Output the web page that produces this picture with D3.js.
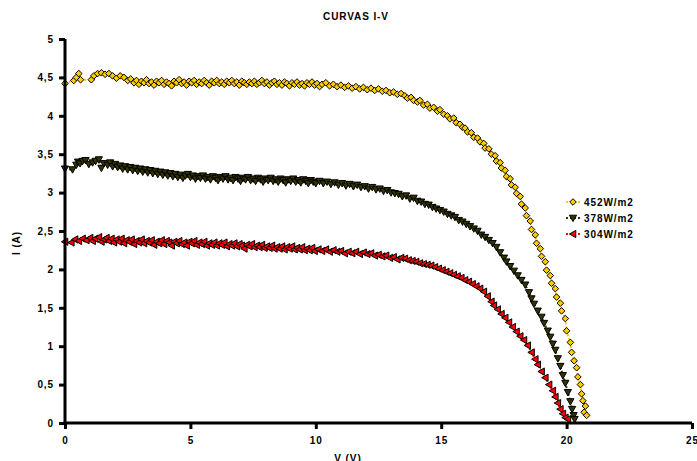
<!DOCTYPE html>
<html>
<head>
<meta charset="utf-8">
<script src="https://cdn.jsdelivr.net/npm/d3@7"></script>
<style>
body { margin: 0; background: #fff; }
text { font-family: Arial, "Liberation Sans", sans-serif; font-weight: bold; font-size: 10px; letter-spacing: 0.9px; }
</style>
</head>
<body>
<svg></svg>
<script>
const series452 = [
[0.00,4.42],[0.35,4.46],[0.45,4.50],[0.55,4.55],[0.62,4.47],[1.05,4.47],[1.15,4.52],[1.30,4.55],[1.45,4.56],[1.60,4.54],
[1.75,4.55],[1.90,4.52],[2.05,4.49],[2.20,4.52],[2.35,4.50],[2.50,4.46],[2.62,4.48],[2.75,4.43],[2.85,4.46],[2.95,4.41],
[3.05,4.45],[3.15,4.43],[3.25,4.47],[3.35,4.42],[3.45,4.44],[3.55,4.40],[3.65,4.45],[3.75,4.43],[3.85,4.46],[3.95,4.41],
[4.05,4.44],[4.15,4.42],[4.25,4.39],[4.35,4.45],[4.45,4.43],[4.55,4.47],[4.65,4.42],[4.75,4.44],[4.85,4.40],[4.95,4.45],
[5.05,4.43],[5.15,4.46],[5.25,4.41],[5.35,4.44],[5.45,4.42],[5.55,4.46],[5.65,4.43],[5.75,4.40],[5.85,4.45],[5.95,4.43],
[6.05,4.46],[6.15,4.42],[6.25,4.44],[6.35,4.41],[6.45,4.45],[6.55,4.43],[6.65,4.46],[6.75,4.42],[6.85,4.44],[6.95,4.40],
[7.05,4.45],[7.15,4.43],[7.25,4.41],[7.35,4.44],[7.45,4.42],[7.55,4.45],[7.65,4.41],[7.75,4.43],[7.85,4.46],[7.95,4.42],
[8.05,4.44],[8.15,4.40],[8.25,4.43],[8.35,4.45],[8.45,4.41],[8.55,4.43],[8.65,4.40],[8.75,4.44],[8.85,4.42],[8.95,4.39],
[9.05,4.43],[9.15,4.41],[9.25,4.44],[9.35,4.40],[9.45,4.42],[9.55,4.39],[9.65,4.43],[9.75,4.41],[9.85,4.44],[9.95,4.40],
[10.05,4.42],[10.15,4.38],[10.25,4.41],[10.40,4.43],[10.55,4.39],[10.70,4.41],[10.85,4.38],[11.00,4.40],[11.15,4.37],[11.30,4.39],
[11.45,4.36],[11.60,4.38],[11.75,4.35],[11.90,4.37],[12.05,4.34],[12.20,4.36],[12.35,4.33],[12.50,4.35],[12.65,4.32],[12.80,4.33],
[12.95,4.30],[13.10,4.31],[13.25,4.28],[13.40,4.29],[13.55,4.26],[13.65,4.23],[13.80,4.24],[13.90,4.20],[14.05,4.18],[14.15,4.20],
[14.30,4.14],[14.45,4.15],[14.55,4.10],[14.70,4.11],[14.85,4.06],[14.95,4.08],[15.10,4.02],[15.25,4.00],[15.35,3.96],[15.50,3.97],
[15.60,3.91],[15.75,3.89],[15.85,3.85],[15.95,3.84],[16.05,3.79],[16.20,3.78],[16.30,3.72],[16.45,3.71],[16.55,3.66],[16.70,3.64],
[16.75,3.58],[16.90,3.57],[17.00,3.50],[17.15,3.48],[17.20,3.41],[17.35,3.39],[17.40,3.32],[17.55,3.29],[17.60,3.21],[17.75,3.18],
[17.80,3.10],[17.95,3.07],[18.00,2.99],[18.15,2.95],[18.20,2.85],[18.35,2.80],[18.40,2.70],[18.55,2.63],[18.60,2.52],[18.75,2.45],
[18.80,2.34],[18.95,2.27],[19.00,2.17],[19.15,2.10],[19.20,1.99],[19.35,1.92],[19.40,1.82],[19.55,1.75],[19.60,1.64],[19.75,1.56],
[19.80,1.46],[19.95,1.36],[20.00,1.20],[20.15,1.05],[20.20,0.92],[20.30,0.81],[20.40,0.72],[20.45,0.60],[20.55,0.50],[20.60,0.38],
[20.65,0.29],[20.75,0.22],[20.70,0.14],[20.80,0.10]
];

const series378 = [
[0.00,3.31],[0.30,3.30],[0.45,3.36],[0.52,3.40],[0.60,3.38],[0.70,3.41],[0.82,3.42],[0.95,3.37],[1.10,3.39],[1.22,3.41],
[1.35,3.43],[1.45,3.32],[1.55,3.38],[1.70,3.36],[1.80,3.39],[1.90,3.34],[2.00,3.37],[2.10,3.33],[2.20,3.35],[2.30,3.31],
[2.40,3.34],[2.50,3.30],[2.60,3.33],[2.70,3.29],[2.80,3.32],[2.90,3.28],[3.00,3.31],[3.10,3.27],[3.20,3.30],[3.30,3.26],
[3.40,3.29],[3.50,3.25],[3.60,3.28],[3.70,3.24],[3.80,3.27],[3.90,3.23],[4.00,3.26],[4.10,3.22],[4.20,3.25],[4.30,3.21],
[4.40,3.24],[4.50,3.20],[4.60,3.23],[4.70,3.19],[4.80,3.22],[4.90,3.24],[5.00,3.20],[5.10,3.22],[5.20,3.18],[5.30,3.21],
[5.40,3.19],[5.50,3.22],[5.60,3.18],[5.70,3.20],[5.80,3.17],[5.90,3.21],[6.00,3.19],[6.10,3.16],[6.20,3.20],[6.30,3.18],
[6.40,3.21],[6.50,3.17],[6.60,3.19],[6.70,3.16],[6.80,3.20],[6.90,3.18],[7.00,3.15],[7.10,3.19],[7.20,3.17],[7.30,3.20],
[7.40,3.16],[7.50,3.18],[7.60,3.15],[7.70,3.19],[7.80,3.17],[7.90,3.14],[8.00,3.18],[8.10,3.16],[8.20,3.19],[8.30,3.15],
[8.40,3.17],[8.50,3.14],[8.60,3.18],[8.70,3.16],[8.80,3.13],[8.90,3.17],[9.00,3.15],[9.10,3.18],[9.20,3.14],[9.30,3.16],
[9.40,3.13],[9.50,3.17],[9.60,3.15],[9.70,3.12],[9.80,3.16],[9.90,3.14],[10.00,3.12],[10.15,3.15],[10.30,3.12],[10.45,3.14],
[10.60,3.11],[10.75,3.13],[10.90,3.10],[11.05,3.12],[11.20,3.09],[11.35,3.11],[11.50,3.08],[11.65,3.10],[11.80,3.07],[11.95,3.08],
[12.10,3.05],[12.25,3.07],[12.40,3.04],[12.55,3.05],[12.70,3.02],[12.85,3.03],[13.00,3.00],[13.15,2.99],[13.30,2.98],[13.45,2.95],
[13.60,2.96],[13.75,2.92],[13.90,2.93],[14.05,2.89],[14.20,2.88],[14.35,2.85],[14.50,2.84],[14.65,2.81],[14.80,2.79],[14.95,2.77],
[15.10,2.75],[15.25,2.72],[15.40,2.70],[15.55,2.68],[15.70,2.64],[15.85,2.62],[16.00,2.59],[16.15,2.56],[16.30,2.53],[16.45,2.50],
[16.60,2.45],[16.75,2.42],[16.90,2.38],[17.05,2.34],[17.20,2.29],[17.35,2.22],[17.50,2.15],[17.60,2.10],[17.75,2.04],[17.90,1.98],
[18.05,1.92],[18.20,1.86],[18.35,1.80],[18.50,1.70],[18.60,1.62],[18.70,1.55],[18.85,1.46],[19.00,1.38],[19.10,1.30],[19.25,1.20],
[19.35,1.12],[19.45,1.03],[19.55,0.95],[19.65,0.84],[19.75,0.74],[19.85,0.62],[19.95,0.52],[20.05,0.40],[20.15,0.28],[20.22,0.18],
[20.28,0.10],[20.32,0.05]
];

const series304 = [
[0.00,2.36],[0.25,2.35],[0.40,2.39],[0.55,2.37],[0.70,2.40],[0.85,2.38],[1.00,2.41],[1.10,2.37],[1.20,2.40],[1.35,2.42],
[1.45,2.36],[1.55,2.39],[1.65,2.41],[1.75,2.37],[1.85,2.40],[1.95,2.35],[2.05,2.39],[2.15,2.36],[2.25,2.40],[2.35,2.34],
[2.45,2.38],[2.55,2.36],[2.65,2.39],[2.75,2.33],[2.85,2.37],[2.95,2.35],[3.05,2.39],[3.15,2.34],[3.25,2.37],[3.35,2.35],
[3.45,2.38],[3.55,2.32],[3.65,2.36],[3.75,2.34],[3.85,2.38],[3.95,2.33],[4.05,2.37],[4.15,2.35],[4.25,2.31],[4.35,2.36],
[4.45,2.34],[4.55,2.37],[4.65,2.33],[4.75,2.35],[4.85,2.31],[4.95,2.36],[5.05,2.34],[5.15,2.37],[5.25,2.32],[5.35,2.35],
[5.45,2.33],[5.55,2.36],[5.65,2.31],[5.75,2.34],[5.85,2.32],[5.95,2.35],[6.05,2.31],[6.15,2.34],[6.25,2.32],[6.35,2.35],
[6.45,2.30],[6.55,2.33],[6.65,2.31],[6.75,2.34],[6.85,2.30],[6.95,2.33],[7.05,2.31],[7.15,2.27],[7.25,2.32],[7.35,2.30],
[7.45,2.33],[7.55,2.29],[7.65,2.31],[7.75,2.29],[7.85,2.32],[7.95,2.28],[8.05,2.30],[8.15,2.28],[8.25,2.31],[8.35,2.27],
[8.45,2.29],[8.55,2.27],[8.65,2.30],[8.75,2.26],[8.85,2.29],[8.95,2.27],[9.05,2.30],[9.15,2.26],[9.25,2.28],[9.35,2.26],
[9.45,2.29],[9.55,2.25],[9.65,2.27],[9.75,2.25],[9.85,2.28],[9.95,2.24],[10.10,2.26],[10.25,2.24],[10.40,2.26],[10.55,2.23],
[10.70,2.25],[10.85,2.23],[11.00,2.24],[11.15,2.21],[11.30,2.23],[11.45,2.21],[11.60,2.23],[11.75,2.20],[11.90,2.22],[12.05,2.20],
[12.20,2.21],[12.35,2.18],[12.50,2.19],[12.65,2.17],[12.80,2.18],[12.95,2.15],[13.10,2.16],[13.25,2.13],[13.40,2.15],[13.55,2.14],
[13.70,2.12],[13.85,2.11],[14.00,2.10],[14.15,2.08],[14.30,2.07],[14.45,2.06],[14.60,2.05],[14.75,2.03],[14.90,2.01],[15.05,1.99],
[15.20,1.97],[15.35,1.95],[15.50,1.93],[15.65,1.91],[15.80,1.89],[15.95,1.86],[16.10,1.84],[16.25,1.81],[16.40,1.78],[16.55,1.75],
[16.70,1.71],[16.85,1.65],[17.00,1.58],[17.10,1.53],[17.25,1.48],[17.40,1.42],[17.55,1.37],[17.70,1.31],[17.85,1.25],[18.00,1.19],
[18.15,1.13],[18.30,1.08],[18.45,1.01],[18.60,0.92],[18.75,0.83],[18.85,0.76],[19.00,0.67],[19.15,0.59],[19.30,0.50],[19.45,0.42],
[19.55,0.34],[19.65,0.26],[19.75,0.18],[19.85,0.12],[19.95,0.07],[20.05,0.05]
];

const seriesNames = ["452W/m2", "378W/m2", "304W/m2"];
const xTicks = [0, 5, 10, 15, 20, 25];
const yTicks = [0, 0.5, 1, 1.5, 2, 2.5, 3, 3.5, 4, 4.5, 5];

const width = 697, height = 461;

const svg = d3.select("svg")
    .attr("width", width)
    .attr("height", height);

const x = d3.scaleLinear().domain([0, 25]).range([65, 692]);
const y = d3.scaleLinear().domain([0, 5]).range([423, 39]);

// marker shapes
const diamond = "M0,-3.3L3.3,0L0,3.3L-3.3,0Z";
const triDown = "M-3.6,-2.8L3.6,-2.8L0,3.6Z";
const triLeft = "M-3.6,0L2.8,-3.6L2.8,3.6Z";

const styles = [
    {data: series452, color: "#FFCC00", shape: diamond},
    {data: series378, color: "#333300", shape: triDown},
    {data: series304, color: "#FF0000", shape: triLeft}
];

const line = d3.line()
    .x(d => x(d[0]))
    .y(d => y(d[1]));

styles.forEach(s => {
    const g = svg.append("g");
    g.append("path")
        .datum(s.data)
        .attr("d", line)
        .attr("fill", "none")
        .attr("stroke", s.color)
        .attr("stroke-width", 2)
        .attr("stroke-dasharray", "2,2");
    g.selectAll(".pt").data(s.data)
        .enter()
        .append("path")
        .attr("class", "pt")
        .attr("transform", d => "translate(" + x(d[0]) + "," + y(d[1]) + ")")
        .attr("d", s.shape)
        .attr("fill", s.color)
        .attr("stroke", "#000")
        .attr("stroke-width", 1);
});

// axes
const fmt = d => String(d).replace(".", ",");

const xAxis = svg.append("g")
    .attr("transform", `translate(0,${y(0)})`)
    .call(d3.axisBottom(x).tickValues(xTicks).tickSize(6).tickSizeOuter(0).tickPadding(8).tickFormat(fmt));

const yAxis = svg.append("g")
    .attr("transform", `translate(${x(0)},0)`)
    .call(d3.axisLeft(y).tickValues(yTicks).tickSize(6).tickSizeOuter(0).tickPadding(5).tickFormat(fmt));

[xAxis, yAxis].forEach(a => {
    a.select(".domain").attr("stroke", "#000").attr("stroke-width", 3);
    a.selectAll(".tick line").attr("stroke", "#000").attr("stroke-width", 3);
    a.selectAll(".tick text")
        .attr("fill", "#000")
        .style("font-family", "Arial, 'Liberation Sans', sans-serif")
        .style("font-weight", "bold")
        .style("font-size", "10px");
});
yAxis.select(".domain").attr("d", `M0,${y(0) + 1.5}V${y(5)}`);
xAxis.select(".domain").attr("d", `M${x(0) - 1.5},0H${x(25)}`);

// titles
svg.append("text")
    .attr("x", 356).attr("y", 20)
    .attr("text-anchor", "middle")
    .text("CURVAS I-V");

svg.append("text")
    .attr("x", 348).attr("y", 462)
    .attr("text-anchor", "middle")
    .text("V (V)");

svg.append("text")
    .attr("transform", "translate(20,243) rotate(-90)")
    .attr("text-anchor", "middle")
    .text("I (A)");

// legend
const legend = svg.append("g");
styles.forEach((s, i) => {
    const ly = 202 + i * 16;
    legend.append("line")
        .attr("x1", 566).attr("x2", 580)
        .attr("y1", ly).attr("y2", ly)
        .attr("stroke", s.color)
        .attr("stroke-width", 2)
        .attr("stroke-dasharray", "2,2");
    legend.append("path")
        .attr("transform", `translate(573,${ly})`)
        .attr("d", s.shape)
        .attr("fill", s.color)
        .attr("stroke", "#000");
    legend.append("text")
        .attr("x", 584).attr("y", ly + 4)
        .text(seriesNames[i]);
});
</script>
</body>
</html>
